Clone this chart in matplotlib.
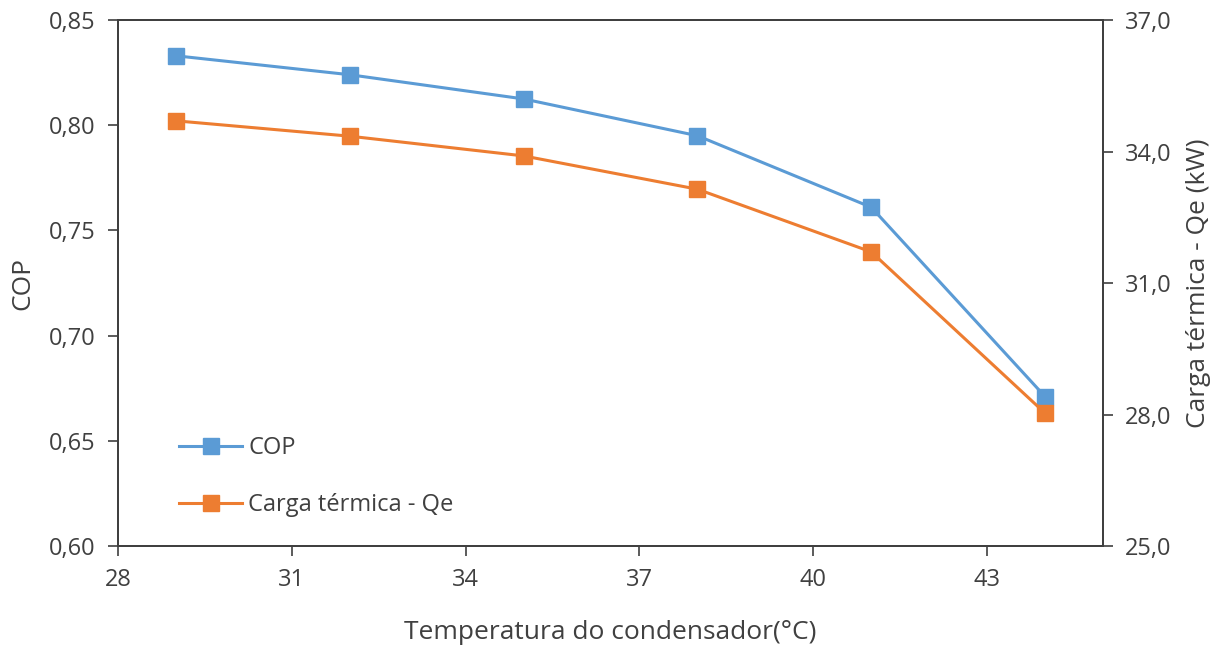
import matplotlib
matplotlib.use('Agg')
from matplotlib import pyplot as plt
from matplotlib.ticker import FuncFormatter

plt.rcParams['font.family'] = ['Open Sans', 'DejaVu Sans']

# dados: temperatura do condensador, COP e carga térmica
temp = [29, 32, 35, 38, 41, 44]
cop = [0.833, 0.824, 0.8125, 0.795, 0.761, 0.671]
qe = [34.70, 34.35, 33.90, 33.14, 31.71, 28.03]

azul = '#5B9BD5'
laranja = '#ED7D31'
cinza = '#404040'

fig = plt.figure(figsize=(12.23, 6.46), dpi=100)
ax = fig.add_axes([0.0965, 0.1548, 0.8054, 0.8142])
ax2 = ax.twinx()

l1, = ax.plot(temp, cop, color=azul, linewidth=2.2, marker='s', markersize=11,
              markeredgecolor=azul, label='COP')
l2, = ax2.plot(temp, qe, color=laranja, linewidth=2.2, marker='s', markersize=11,
               markeredgecolor=laranja, label='Carga térmica - Qe')

ax.set_xlim(28, 45)
ax.set_ylim(0.60, 0.85)
ax2.set_ylim(25, 37)
ax.set_xticks(range(28, 44, 3))
ax.set_yticks([0.60, 0.65, 0.70, 0.75, 0.80, 0.85])
ax2.set_yticks([25, 28, 31, 34, 37])

ax.yaxis.set_major_formatter(FuncFormatter(lambda v, p: '{:.2f}'.format(v).replace('.', ',')))
ax2.yaxis.set_major_formatter(FuncFormatter(lambda v, p: '{:.1f}'.format(v).replace('.', ',')))

for a in (ax, ax2):
    a.tick_params(labelsize=17, length=7, width=1.2, color=cinza, labelcolor=cinza, pad=9)
    for s in a.spines.values():
        s.set_color(cinza)
        s.set_linewidth(1.4)

ax.set_xlabel('Temperatura do condensador(°C)', fontsize=19, color=cinza, labelpad=20)
ax.set_ylabel('COP', fontsize=19, color=cinza, labelpad=10)
ax2.set_ylabel('Carga térmica - Qe (kW)', fontsize=19, color=cinza, labelpad=10)

leg = ax.legend(handles=[l1, l2], loc='lower left', bbox_to_anchor=(0.04, 0.015), frameon=False,
                fontsize=17, labelspacing=1.4, handlelength=2.7, handletextpad=0.25)
for t in leg.get_texts():
    t.set_color(cinza)

plt.savefig('out.png', dpi=100)
